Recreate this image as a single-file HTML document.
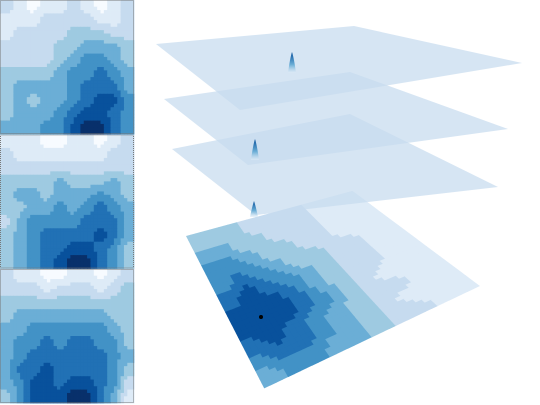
<!DOCTYPE html>
<html><head><meta charset="utf-8"><style>
html,body{margin:0;padding:0;background:#fff;}
svg{display:block;}
</style></head><body>
<svg id="chart" width="540" height="405" viewBox="0 0 540 405" xmlns="http://www.w3.org/2000/svg">
<defs>
<linearGradient id="peakGrad" x1="0" y1="0" x2="0" y2="1">
<stop offset="0" stop-color="#08519c"/><stop offset="0.6" stop-color="#6baed6"/><stop offset="1" stop-color="#deebf7" stop-opacity="0.6"/>
</linearGradient>
</defs>
<g id="panels"></g>
<g id="stack"></g>
</svg>
<script>
const levelColors = ["#f7fbff","#deebf7","#c6dbef","#9ecae1","#6baed6","#4292c6","#2171b5","#08519c","#08306b"];
const panel1 = [
[2,1,0,1,1,2,1,0,1,2],[1,1,1,2,2,2,2,1,1,2],[1,2,2,2,2,3,3,3,2,2],[2,2,2,2,3,3,4,4,4,3],[2,2,2,2,3,4,5,5,4,3],
[3,3,3,3,4,5,5,6,5,4],[3,4,4,4,4,5,6,6,6,4],[3,4,3,4,4,5,6,7,7,5],[3,4,4,4,5,6,7,7,6,5],[4,4,4,5,5,7,8,8,6,5]];
const panel2 = [
[1,1,1,0,0,1,1,0,1,2],[2,1,1,1,1,1,1,1,2,2],[2,2,2,2,2,2,2,2,2,2],[3,3,3,3,4,3,3,3,4,3],[3,4,4,3,4,4,4,5,4,3],
[3,3,4,4,5,4,5,6,5,4],[2,4,5,5,5,5,6,6,6,4],[3,4,5,6,6,6,6,7,6,4],[3,4,5,6,6,7,7,6,5,3],[3,4,5,6,7,8,8,6,5,3]];
const panel3 = [
[2,1,1,0,0,1,1,0,1,2],[2,2,2,1,2,2,2,1,2,3],[3,3,3,3,3,3,3,3,3,3],[3,4,4,4,4,4,4,4,3,3],[4,4,5,5,5,5,5,5,4,3],
[4,5,5,6,5,6,6,5,5,3],[4,5,6,6,6,6,6,6,5,4],[4,6,6,7,6,6,6,6,5,3],[4,5,7,7,6,7,7,6,5,2],[3,5,7,7,7,8,8,6,4,1]];
const baseMap = [
[3,3,3,2,2,2,2,1,1,1],[4,4,3,3,2,2,2,1,1,1],[5,5,4,3,3,2,2,1,1,1],[5,6,5,4,3,3,2,2,1,1],[6,7,6,5,4,3,2,2,1,1],
[7,7,7,6,4,3,2,2,1,1],[7,7,7,6,5,3,2,1,1,1],[6,7,6,5,4,3,2,2,1,1],[5,6,6,5,4,3,2,1,1,1],[4,5,5,4,4,3,2,2,1,1]];

const NS="http://www.w3.org/2000/svg";
const panelsG=document.getElementById('panels');
const stackG=document.getElementById('stack');
function mk(tag,attrs,parent){const e=document.createElementNS(NS,tag);for(const k in attrs)e.setAttribute(k,attrs[k]);parent.appendChild(e);return e;}
// smooth sampling of a grid at fractional position (rendering only)
function sample(grid,fr,fc){
  const n=grid.length,m=grid[0].length;
  let r=fr*n-0.5,c=fc*m-0.5;
  r=Math.max(0,Math.min(n-1,r));c=Math.max(0,Math.min(m-1,c));
  const r0=Math.floor(r),c0=Math.floor(c),r1=Math.min(n-1,r0+1),c1=Math.min(m-1,c0+1);
  const a=r-r0,b=c-c0;
  return grid[r0][c0]*(1-a)*(1-b)+grid[r0][c1]*(1-a)*b+grid[r1][c0]*a*(1-b)+grid[r1][c1]*a*b;
}
const RES=40;
[panel1,panel2,panel3].forEach((grid,p)=>{
  const g=mk('g',{},panelsG);
  
  
  const x0=0,y0=p*134.5,size=134,c=size/RES;
  for(let r=0;r<RES;r++)for(let k=0;k<RES;k++){
    const v=Math.round(sample(grid,(r+0.5)/RES,(k+0.5)/RES));
    const cell=mk('rect',{x:x0+k*c,y:y0+r*c,width:c+0.4,height:c+0.4,fill:levelColors[v]},g);
    
    
  }
  const b=mk('rect',{x:x0+0.5,y:y0+0.5,width:size-1,height:size-1,fill:'none',stroke:'#777','stroke-width':1,'stroke-dasharray':'1,1'},g);
  
  
});

function bil(q,u,v){ // q: [left, top, bottom, right]
  const [L,T,B,R]=q;
  return [L[0]*(1-u)*(1-v)+T[0]*u*(1-v)+B[0]*(1-u)*v+R[0]*u*v,
          L[1]*(1-u)*(1-v)+T[1]*u*(1-v)+B[1]*(1-u)*v+R[1]*u*v];
}
const baseQuad=[[186,236],[352,191],[264,388],[479,286]];
const bg=mk('g',{},stackG);


const BR=36;
for(let j=0;j<BR;j++)for(let i=0;i<BR;i++){
  const v=Math.round(sample(baseMap,(j+0.5)/BR,(i+0.5)/BR));
  const pts=[bil(baseQuad,i/BR,j/BR),bil(baseQuad,(i+1.1)/BR,j/BR),bil(baseQuad,(i+1.1)/BR,(j+1.1)/BR),bil(baseQuad,i/BR,(j+1.1)/BR)];
  const c=mk('polygon',{points:pts.map(p=>p.join(',')).join(' '),fill:levelColors[Math.min(v,7)]},bg);
  
  
}
const dot=mk('circle',{cx:261,cy:317,r:2,fill:'#000'},stackG);



const planes=[
  {q:[[172,149],[350,114],[256,215],[498,187]],peak:[254,201,217]},
  {q:[[164,99],[350,72],[248,165],[508,129]],peak:[255,139,160]},
  {q:[[156,44],[354,26],[240,110],[522,63]],peak:[292,52,73]}
];
planes.forEach((pl,k)=>{
  const [L,T,B,R]=pl.q;
  const poly=mk('polygon',{points:[L,T,R,B].map(p=>p.join(',')).join(' '),fill:'#c6dbef','fill-opacity':0.72},stackG);
  
  
  const [px,py0,py1]=pl.peak;
  const pk=mk('path',{d:`M${px-4},${py1} Q${px-2},${py0+6} ${px},${py0} Q${px+2},${py0+6} ${px+4},${py1} Z`,fill:'url(#peakGrad)'},stackG);
  
  
});
</script>
</body></html>
